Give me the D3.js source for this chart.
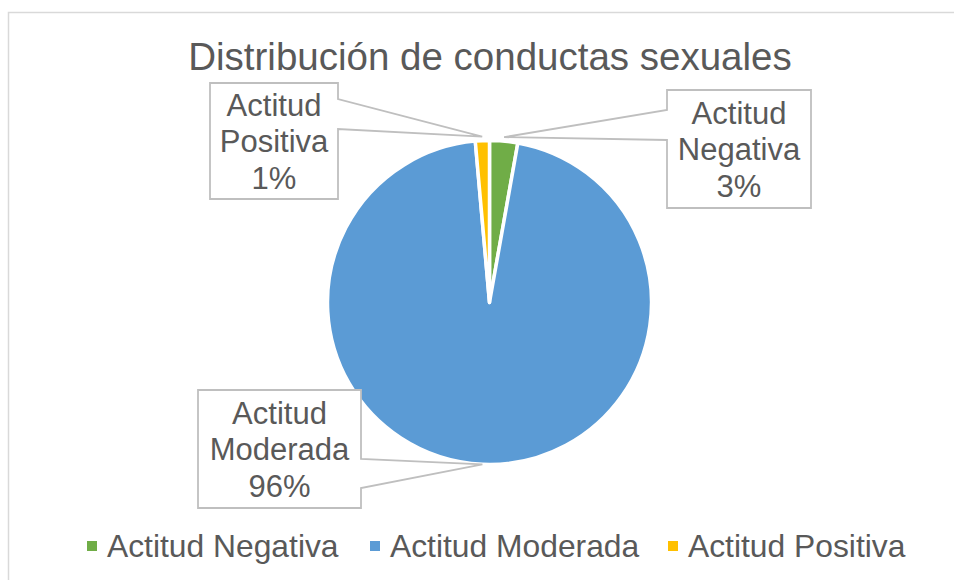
<!DOCTYPE html>
<html>
<head>
<meta charset="utf-8">
<script src="https://cdn.jsdelivr.net/npm/d3@7"></script>
<style>
  body { margin: 0; background: #fff; }
  svg { font-family: "Liberation Sans", Arial, sans-serif; }
</style>
</head>
<body>
<svg id="chart" width="954" height="580"></svg>
<script>
let categories = ["Actitud Negativa", "Actitud Moderada", "Actitud Positiva"]
let shortNames = [["Actitud", "Negativa"], ["Actitud", "Moderada"], ["Actitud", "Positiva"]]
let values = [2.8, 95.8, 1.4]
let colors = ["#70AD47", "#5B9BD5", "#FFC000"]
let title = "Distribución de conductas sexuales"

let width = 954
let height = 580
let cx = 489.5, cy = 302.5, radius = 162

// callout boxes: x0,y0,x1,y1, side of the notch, notch y range
let boxes = [
  {x0: 667, y0: 90, x1: 811, y1: 208, side: "left", n0: 110, n1: 140, tipR: 166},
  {x0: 198, y0: 390, x1: 361, y1: 508, side: "right", n0: 459, n1: 488, tipR: 162},
  {x0: 210, y0: 83, x1: 338, y1: 199, side: "right", n0: 99, n1: 129, tipR: 166}
]

let svg = d3.select("#chart")

// chart frame
svg.append("rect")
  .attr("x", 8.5).attr("y", 12.5)
  .attr("width", 960).attr("height", 600)
  .attr("fill", "none")
  .attr("stroke", "#d9d9d9")
  .attr("stroke-width", 1.5)

svg.append("text")
  .attr("x", 490)
  .attr("y", 70)
  .attr("text-anchor", "middle")
  .style("font-size", "38.5px")
  .style("fill", "#595959")
  .text(title)

let total = d3.sum(values)
let pie = d3.pie().sort(null).value(d => d)
let arcs = pie(values)
let arc = d3.arc().innerRadius(0).outerRadius(radius)

let g = svg.append("g").attr("transform", "translate(" + cx + "," + cy + ")")
g.selectAll("path")
  .data(arcs)
  .enter()
  .append("path")
  .attr("d", arc)
  .attr("fill", (d, i) => colors[i])
  .attr("stroke", "#fff")
  .attr("stroke-width", 3.5)
  .attr("stroke-linejoin", "round")

let fmt = d3.format(".0%")

arcs.forEach((a, i) => {
  let b = boxes[i]
  let mid = (a.startAngle + a.endAngle) / 2
  let tx = cx + Math.sin(mid) * b.tipR
  let ty = cy - Math.cos(mid) * b.tipR
  let p = d3.path()
  if (b.side == "right") {
    p.moveTo(b.x0, b.y0)
    p.lineTo(b.x1, b.y0)
    p.lineTo(b.x1, b.n0)
    p.lineTo(tx, ty)
    p.lineTo(b.x1, b.n1)
    p.lineTo(b.x1, b.y1)
    p.lineTo(b.x0, b.y1)
    p.closePath()
  } else {
    p.moveTo(b.x0, b.y0)
    p.lineTo(b.x1, b.y0)
    p.lineTo(b.x1, b.y1)
    p.lineTo(b.x0, b.y1)
    p.lineTo(b.x0, b.n1)
    p.lineTo(tx, ty)
    p.lineTo(b.x0, b.n0)
    p.closePath()
  }
  svg.append("path")
    .attr("d", p.toString())
    .attr("fill", "#fff")
    .attr("stroke", "#bfbfbf")
    .attr("stroke-width", 1.8)

  let lines = shortNames[i].concat([fmt(values[i] / total)])
  let midX = (b.x0 + b.x1) / 2
  let midY = (b.y0 + b.y1) / 2
  svg.append("text")
    .attr("text-anchor", "middle")
    .style("font-size", "31px")
    .style("fill", "#595959")
    .selectAll("tspan")
    .data(lines)
    .enter()
    .append("tspan")
    .attr("x", midX)
    .attr("y", (d, j) => midY + 11 + (j - 1) * 36.5)
    .text(d => d)
})

// legend
let legendX = [87, 370, 668]
let legend = svg.append("g")
categories.forEach((c, i) => {
  legend.append("rect")
    .attr("x", legendX[i]).attr("y", 541)
    .attr("width", 10).attr("height", 10)
    .attr("fill", colors[i])
  legend.append("text")
    .attr("x", legendX[i] + 20)
    .attr("y", 557)
    .style("font-size", "31.8px")
    .style("fill", "#595959")
    .text(c)
})
</script>
</body>
</html>
